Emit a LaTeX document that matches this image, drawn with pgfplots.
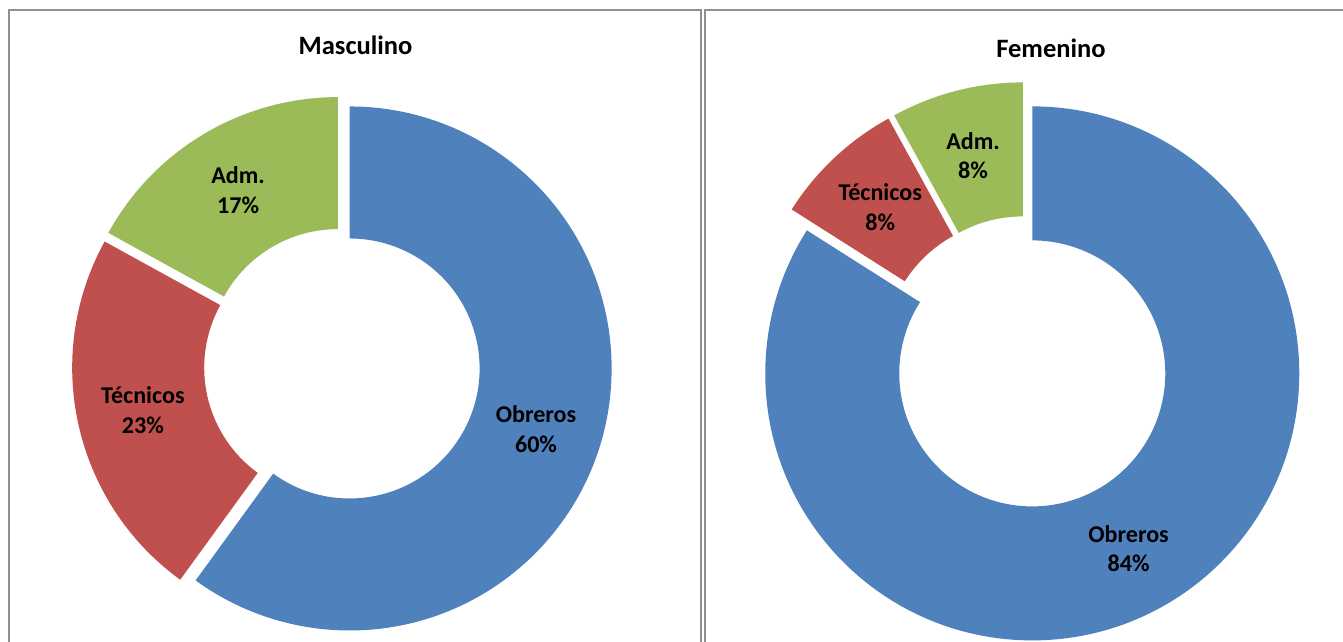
\documentclass[border=0pt]{standalone}
\usepackage{fontspec}
\setmainfont{Carlito}
\usepackage{pgfplots}
\usepackage{pgfplotstable}
\pgfplotsset{compat=1.18}

\definecolor{obreros}{HTML}{4F81BD}
\definecolor{tecnicos}{HTML}{C0504D}
\definecolor{adm}{HTML}{9BBB59}
\definecolor{marco}{HTML}{8F8F8F}

% porcentaje por categoria
\pgfplotstableread{
label    value color
Obreros  60    obreros
Técnicos 23    tecnicos
Adm.     17    adm
}\masculino
\pgfplotstableread{
label    value color
Obreros  84    obreros
Técnicos 8     tecnicos
Adm.     8     adm
}\femenino

\tikzset{
  lbl/.style={font=\bfseries\fontsize{13.7}{17}\selectfont, align=center, text=black},
  ttl/.style={font=\bfseries\fontsize{15.1}{18}\selectfont, anchor=base},
}

% \donut{tabla}{cx}{cy}{R}{r}{desplazamiento}, todo en px (1px = 0.02cm)
\newcommand{\donut}[6]{%
  \pgfplotstablegetrowsof{#1}%
  \pgfmathtruncatemacro{\nlast}{\pgfplotsretval-1}%
  \def\aini{90}%
  \pgfplotsforeachungrouped \k in {0,...,\nlast}{%
    \pgfplotstablegetelem{\k}{value}\of{#1}\let\val\pgfplotsretval
    \pgfplotstablegetelem{\k}{color}\of{#1}\let\col\pgfplotsretval
    \pgfplotstablegetelem{\k}{label}\of{#1}\let\lab\pgfplotsretval
    \pgfmathsetmacro{\afin}{\aini-3.6*\val}%
    \pgfmathsetmacro{\amed}{(\aini+\afin)/2}%
    \pgfmathsetmacro{\ox}{#2+#6*cos(\amed)}%
    \pgfmathsetmacro{\oy}{#3+#6*sin(\amed)}%
    \pgfmathsetmacro{\xa}{\ox+#4*cos(\aini)}%
    \pgfmathsetmacro{\ya}{\oy+#4*sin(\aini)}%
    \pgfmathsetmacro{\xb}{\ox+#5*cos(\afin)}%
    \pgfmathsetmacro{\yb}{\oy+#5*sin(\afin)}%
    \pgfmathsetmacro{\xl}{\ox+(#4+#5)/2*cos(\amed)}%
    \pgfmathsetmacro{\yl}{\oy+(#4+#5)/2*sin(\amed)}%
    \pgfmathsetmacro{\Rc}{#4*0.02}%
    \pgfmathsetmacro{\rc}{#5*0.02}%
    \edef\temp{%
      \noexpand\fill[\col] (axis cs:\xa,\ya)
        arc[start angle=\aini, end angle=\afin, radius=\Rc cm]
        -- (axis cs:\xb,\yb)
        arc[start angle=\afin, end angle=\aini, radius=\rc cm] -- cycle;
      \noexpand\node[lbl] at (axis cs:\xl,\yl) {\lab\noexpand\\\val\noexpand\%};
    }\temp
    \let\aini\afin
  }%
}

\begin{document}
\begin{tikzpicture}
\begin{axis}[
    x=0.02cm, y=0.02cm,
    xmin=0, xmax=1343,
    ymin=0, ymax=642,
    hide axis,
]
\fill[white] (axis cs:0,0) rectangle (axis cs:1343,642);
% marcos de los dos graficos
\draw[marco, line width=0.9pt] (axis cs:9,-5) |- (axis cs:701,632) -- (axis cs:701,-5);
\draw[marco, line width=0.9pt] (axis cs:705,-5) |- (axis cs:1350,632);

\donut{\masculino}{342}{276}{262}{130}{8}
\donut{\femenino}{1026}{280}{267}{133}{13}

\node[ttl] at (axis cs:355.5,587) {Masculino};
\node[ttl] at (axis cs:1051,584) {Femenino};
\end{axis}
\end{tikzpicture}
\end{document}
